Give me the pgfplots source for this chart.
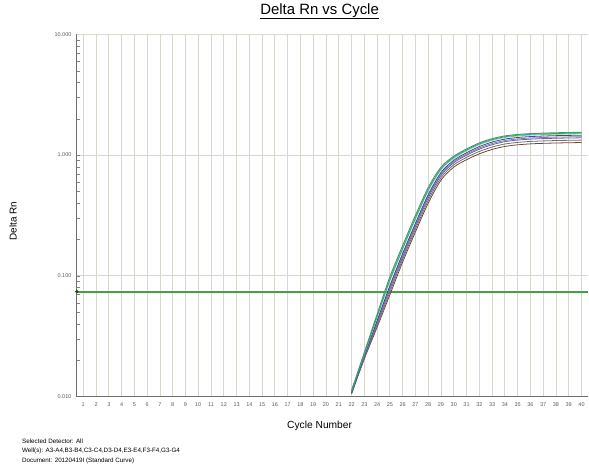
\documentclass[border=0pt]{standalone}
\usepackage{fontspec}
\setmainfont{Liberation Sans}
\usepackage{pgfplots}
\usepackage{pgfplotstable}
\pgfplotsset{compat=1.18}

\definecolor{gridc}{RGB}{216,216,208}
\definecolor{axc}{RGB}{110,110,110}
\definecolor{thr}{RGB}{70,160,70}
\definecolor{cA}{RGB}{60,160,110}
\definecolor{cB}{RGB}{70,150,150}
\definecolor{cC}{RGB}{140,200,140}
\definecolor{cD}{RGB}{60,70,150}
\definecolor{cE}{RGB}{110,130,170}
\definecolor{cF}{RGB}{120,90,150}
\definecolor{cG}{RGB}{110,110,110}
\definecolor{cH}{RGB}{110,70,60}

% delta Rn per cycle, wells A..H
\pgfplotstableread{
cyc  a      b      c      d      e      f      g      h
22   0.0112 0.0110 0.0113 0.0108 0.0110 0.0105 0.0107 0.0106
23   0.0232 0.0227 0.0225 0.0218 0.0215 0.0213 0.0209 0.0205
24   0.0480 0.0462 0.0452 0.0425 0.0414 0.0404 0.0390 0.0375
25   0.0980 0.0929 0.0904 0.0828 0.0800 0.0773 0.0736 0.0697
26   0.178  0.169  0.165  0.153  0.148  0.143  0.137  0.130
27   0.316  0.302  0.294  0.272  0.263  0.255  0.243  0.231
28   0.537  0.515  0.504  0.470  0.455  0.441  0.420  0.399
29   0.794  0.770  0.756  0.717  0.696  0.678  0.649  0.619
30   0.977  0.956  0.941  0.905  0.882  0.862  0.829  0.794
31   1.122  1.100  1.084  1.045  1.018  0.996  0.956  0.915
32   1.259  1.236  1.218  1.175  1.144  1.118  1.071  1.023
33   1.365  1.341  1.322  1.280  1.245  1.217  1.164  1.112
34   1.439  1.417  1.397  1.355  1.318  1.289  1.234  1.178
35   1.479  1.458  1.438  1.397  1.359  1.330  1.272  1.215
36   1.503  1.483  1.463  1.422  1.383  1.354  1.296  1.237
37   1.517  1.497  1.477  1.436  1.397  1.368  1.309  1.250
38   1.528  1.507  1.487  1.447  1.407  1.377  1.318  1.258
39   1.535  1.514  1.494  1.454  1.413  1.383  1.324  1.264
40   1.542  1.521  1.501  1.460  1.420  1.389  1.329  1.269
}\runs

\begin{document}
\begin{tikzpicture}
\begin{axis}[
    at={(0,0)}, anchor=south west,
    width=512bp, height=363bp, scale only axis,
    ymode=log,
    xmin=0.5, xmax=40.5,
    ymin=0.01, ymax=10,
    xtick={1,...,40},
    ytick={0.01,0.1,1,10},
    yticklabels={0.010,0.100,1.000,10.000},
    axis x line*=bottom, axis y line*=left,
    axis line style={-, draw=axc, line width=1.2pt},
    major tick length=0pt,
    xmajorgrids, ymajorgrids,
    grid style={gridc, line width=0.8pt},
    /pgf/number format/assume math mode=true,
    tick label style={font=\fontsize{5.5}{6}\selectfont, text=black!65},
    xticklabel style={yshift=-3bp},
    yticklabel style={xshift=-2bp},
    title={\underline{Delta Rn vs Cycle}},
    title style={font=\fontsize{15}{17}\selectfont, at={(axis description cs:0.475,1.047)}, anchor=center},
    xlabel={Cycle Number},
    xlabel style={font=\fontsize{10.3}{12}\selectfont, at={(axis description cs:0.475,-0.08)}, anchor=center},
    ylabel={Delta Rn},
    ylabel style={font=\fontsize{10}{12}\selectfont, at={(axis description cs:-0.125,0.485)}, anchor=center, rotate=0},
    clip=false,
    every axis plot/.append style={line width=0.8pt, smooth, no markers},
]
\addplot[thr, line width=2.2pt] coordinates {(0.5,0.074) (40.5,0.074)};
\addplot[only marks, mark=*, mark size=1.4pt, mark options={fill=thr!50!black, draw=thr!50!black}] coordinates {(0.5,0.074)};

\addplot[cH] table[x=cyc, y=h] {\runs};
\addplot[cG] table[x=cyc, y=g] {\runs};
\addplot[cF] table[x=cyc, y=f] {\runs};
\addplot[cE] table[x=cyc, y=e] {\runs};
\addplot[cD] table[x=cyc, y=d] {\runs};
\addplot[cC] table[x=cyc, y=c] {\runs};
\addplot[cB] table[x=cyc, y=b] {\runs};
\addplot[cA, line width=1pt] table[x=cyc, y=a] {\runs};
\end{axis}

\begin{scope}[every node/.style={anchor=west, inner sep=0pt, font=\fontsize{6.3}{7}\selectfont}]
\node at (-55bp,-45bp) {Selected Detector: All};
\node at (-55bp,-54bp) {Well(s): A3-A4,B3-B4,C3-C4,D3-D4,E3-E4,F3-F4,G3-G4};
\node at (-55bp,-64bp) {Document: 20120419I (Standard Curve)};
\end{scope}

\path[use as bounding box] (-77bp,-71bp) rectangle (512bp,394bp);
\end{tikzpicture}
\end{document}
